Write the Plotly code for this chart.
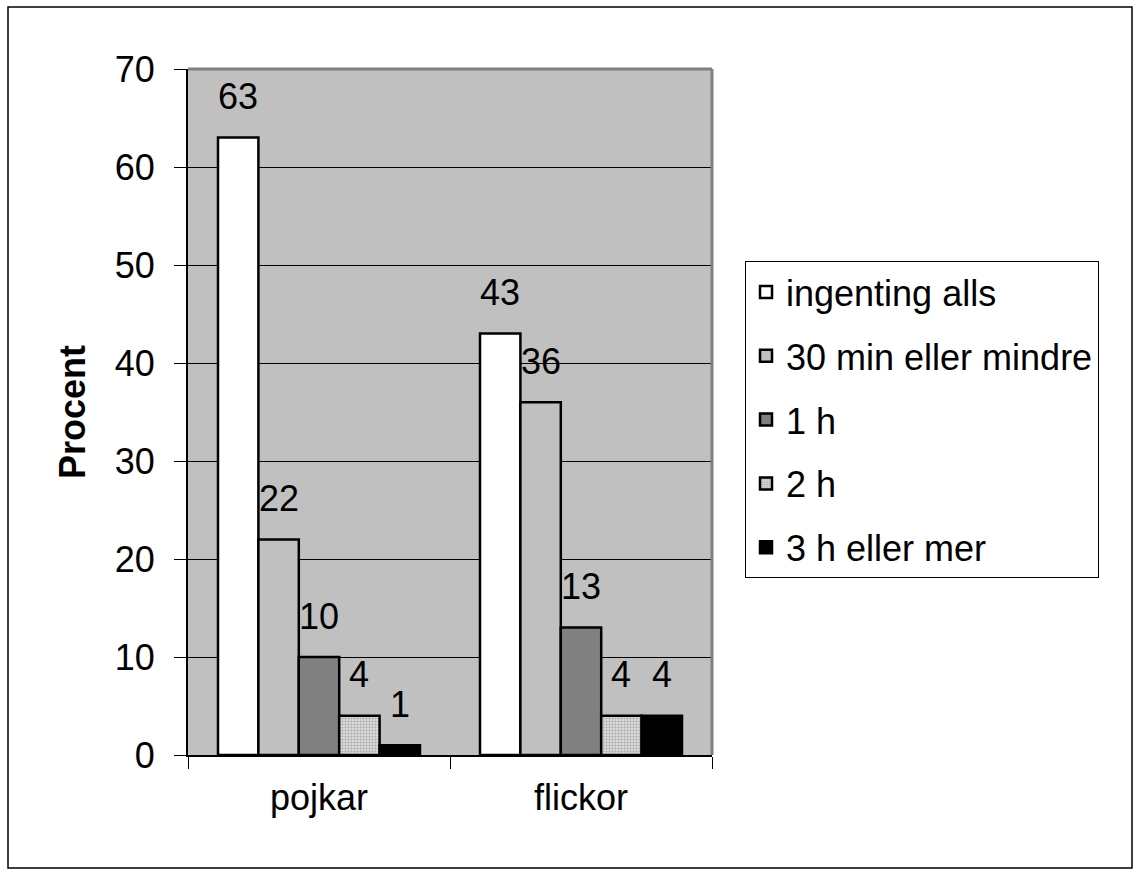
import plotly.graph_objects as go

categories = ["pojkar", "flickor"]
series_names = ["ingenting alls", "30 min eller mindre", "1 h", "2 h", "3 h eller mer"]
values = {
    "ingenting alls": [63, 43],
    "30 min eller mindre": [22, 36],
    "1 h": [10, 13],
    "2 h": [4, 4],
    "3 h eller mer": [1, 4],
}
y_ticks = [0, 10, 20, 30, 40, 50, 60, 70]

colors = ["#FFFFFF", "#C0C0C0", "#808080", "#D8D8D8", "#000000"]
patterns = ["", "", "", ".", ""]

FONT = "Arial, Liberation Sans, sans-serif"
FS = 36

fig = go.Figure()
for i, name in enumerate(series_names):
    marker = dict(color=colors[i], line=dict(color="black", width=2.5))
    if patterns[i]:
        marker["pattern"] = dict(shape=patterns[i], fgcolor="#7A7A7A", bgcolor="#E6E6E6",
                                 size=3, solidity=0.5, fillmode="overlay")
    fig.add_trace(go.Bar(
        x=categories, y=values[name], name=name, marker=marker,
        legendgroup=name,
    ))

bargap = 0.229
n = len(series_names)
w = (1 - bargap) / n
annotations = []
for i, name in enumerate(series_names):
    for ci, v in enumerate(values[name]):
        annotations.append(dict(
            x=ci + (i - (n - 1) / 2) * w, y=v, xref="x", yref="y",
            text=str(v), showarrow=False, yanchor="middle", yshift=41,
            font=dict(family=FONT, size=FS, color="black"),
        ))

fig.update_layout(
    width=1139, height=875,
    margin=dict(l=188, r=427, t=69, b=120),
    paper_bgcolor="white", plot_bgcolor="#C0C0C0",
    barmode="group", bargap=bargap, bargroupgap=0,
    font=dict(family=FONT, size=FS, color="black"),
    showlegend=True,
    legend=dict(
        x=1.063, y=0.72, xanchor="left", yanchor="top",
        bordercolor="black", borderwidth=1, bgcolor="white",
        font=dict(family=FONT, size=FS, color="black"),
        traceorder="grouped", tracegroupgap=14, itemwidth=30,
    ),
    annotations=annotations,
    xaxis=dict(
        type="category", showline=True, linecolor="black", linewidth=2,
        ticks="outside", tickson="boundaries", ticklen=12, tickcolor="black",
        tickfont=dict(size=FS), showgrid=False, ticklabelstandoff=10,
    ),
    yaxis=dict(
        range=[0, 70], tickvals=y_ticks, showline=True, linecolor="black", linewidth=2,
        ticks="outside", ticklen=12, tickcolor="black", showgrid=True,
        gridcolor="black", gridwidth=1, zeroline=False, tickfont=dict(size=FS),
        ticklabelstandoff=12,
        title=dict(text="<b>Procent</b>", font=dict(size=FS), standoff=18),
    ),
    shapes=[
        dict(type="line", xref="paper", yref="paper", x0=0, x1=1, y0=1, y1=1,
             line=dict(color="#808080", width=3), layer="above"),
        dict(type="line", xref="paper", yref="paper", x0=1, x1=1, y0=0, y1=1,
             line=dict(color="#808080", width=3), layer="above"),
        dict(type="rect", xref="paper", yref="paper", x0=-0.3435, x1=1.8015,
             y0=-0.1647, y1=1.0904, line=dict(color="black", width=1.5)),
    ],
)

fig.write_html("out.html")
